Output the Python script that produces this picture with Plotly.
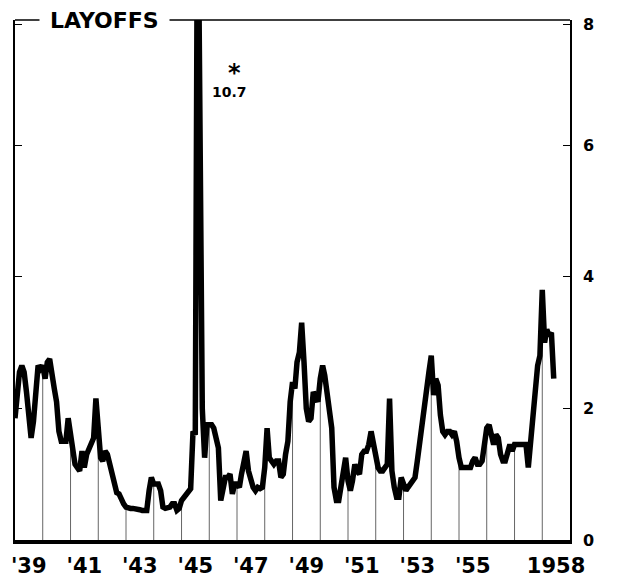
import plotly.graph_objects as go
import pandas as pd

# monthly layoff rates, one list per year
y1939 = [1.85, 2.35, 2.55, 2.65, 2.55, 2.25, 1.85, 1.55, 1.8, 2.2, 2.65, 2.6]
y1940 = [2.65, 2.45, 2.7, 2.75, 2.45, 2.3, 2.1, 1.65, 1.5, 1.5, 1.5, 1.85]
y1941 = [1.55, 1.35, 1.15, 1.1, 1.05, 1.35, 1.1, 1.3, 1.4, 1.45, 1.55, 2.15]
y1942 = [1.6, 1.25, 1.2, 1.35, 1.3, 1.15, 1.0, 0.8, 0.72, 0.7, 0.6, 0.55]
y1943 = [0.5, 0.48, 0.48, 0.48, 0.48, 0.47, 0.46, 0.45, 0.45, 0.45, 0.75, 0.95]
y1944 = [0.85, 0.85, 0.85, 0.75, 0.5, 0.48, 0.48, 0.5, 0.55, 0.55, 0.45, 0.48]
y1945 = [0.6, 0.65, 0.7, 0.72, 0.78, 1.65, 1.6, 10.7, 6.5, 2.0, 1.25, 1.75]
y1946 = [1.75, 1.75, 1.7, 1.5, 1.4, 0.6, 0.75, 0.95, 0.95, 1.0, 0.7, 0.85]
y1947 = [0.85, 0.8, 1.0, 1.15, 1.35, 1.05, 0.9, 0.8, 0.75, 0.8, 0.78, 0.8]
y1948 = [1.1, 1.7, 1.25, 1.2, 1.15, 1.2, 1.2, 0.95, 1.0, 1.3, 1.5, 2.1]
y1949 = [2.4, 2.3, 2.7, 2.85, 3.3, 2.7, 2.0, 1.8, 1.85, 2.25, 2.15, 2.1]
y1950 = [2.45, 2.65, 2.5, 2.2, 1.9, 1.7, 0.8, 0.6, 0.6, 0.85, 1.1, 1.25]
y1951 = [0.9, 0.75, 0.9, 1.15, 1.05, 1.0, 1.3, 1.35, 1.35, 1.45, 1.65, 1.45]
y1952 = [1.25, 1.1, 1.05, 1.05, 1.1, 1.15, 2.15, 1.05, 0.8, 0.65, 0.65, 0.95]
y1953 = [0.85, 0.75, 0.8, 0.85, 0.9, 0.95, 1.2, 1.5, 1.75, 2.0, 2.3, 2.55]
y1954 = [2.8, 2.2, 2.45, 2.35, 1.9, 1.65, 1.6, 1.65, 1.65, 1.6, 1.65, 1.5]
y1955 = [1.25, 1.1, 1.1, 1.1, 1.1, 1.1, 1.2, 1.25, 1.15, 1.15, 1.2, 1.4]
y1956 = [1.7, 1.75, 1.6, 1.45, 1.6, 1.55, 1.3, 1.2, 1.2, 1.3, 1.45, 1.35]
y1957 = [1.45, 1.45, 1.45, 1.45, 1.45, 1.45, 1.1, 1.5, 1.85, 2.3, 2.65, 2.8]
y1958 = [3.8, 3.0, 3.2, 3.1, 3.15, 2.45]

year_labels = ["'39", "'41", "'43", "'45", "'47", "'49", "'51", "'53", "'55", "1958"]
label_years = [1939, 1941, 1943, 1945, 1947, 1949, 1951, 1953, 1955, 1958]

values = (y1939 + y1940 + y1941 + y1942 + y1943 + y1944 + y1945 + y1946 + y1947 + y1948
          + y1949 + y1950 + y1951 + y1952 + y1953 + y1954 + y1955 + y1956 + y1957 + y1958)
months = pd.date_range('1939-01-01', periods=len(values), freq='MS')

# thin drop lines at each January, from zero up to the curve
drop_x, drop_y = [], []
for i in range(12, len(values), 12):
    drop_x += [months[i], months[i], None]
    drop_y += [0, values[i], None]

fig = go.Figure()
fig.add_trace(go.Scatter(x=drop_x, y=drop_y, mode='lines',
                         line=dict(color='#666666', width=1), hoverinfo='skip'))
fig.add_trace(go.Scatter(x=months, y=values, mode='lines',
                         line=dict(color='black', width=5.5)))

tick_font = dict(family='DejaVu Sans', size=21, color='black', weight='bold')
# the page body adds an 8px margin, so the figure is sized/offset to compensate
fig.update_layout(
    width=610, height=571,
    margin=dict(l=7, r=48, t=12, b=39),
    paper_bgcolor='white', plot_bgcolor='white',
    showlegend=False,
    xaxis=dict(
        range=['1939-01-01', '1959-01-01'],
        tickvals=[f'{y}-07-01' for y in label_years],
        ticktext=year_labels,
        tickfont=tick_font,
        ticks='', showgrid=False, zeroline=False,
        showline=True, linewidth=4, linecolor='black',
        ticklabelstandoff=4, automargin=False,
    ),
    yaxis=dict(
        range=[0, 7.9], side='right',
        tickvals=[0, 2, 4, 6, 7.83], ticktext=['0', '2', '4', '6', '8'],
        tickfont=dict(family='DejaVu Sans', size=16, color='black', weight='bold'),
        ticks='inside', ticklen=7, tickcolor='black', tickwidth=1,
        showgrid=False, zeroline=False,
        showline=True, mirror='ticks', linewidth=1.5, linecolor='black',
        ticklabelstandoff=8, automargin=False,
    ),
)

# top border line; the title box sits on it
fig.add_shape(type='line', xref='paper', yref='paper', x0=0, x1=1, y0=1, y1=1,
              line=dict(color='black', width=1.5))

fig.add_annotation(x=0.161, y=1.0, xref='paper', yref='paper', text='LAYOFFS',
                   xanchor='center', yanchor='middle',
                   showarrow=False, bgcolor='white', borderpad=10,
                   font=dict(family='DejaVu Sans', size=22, color='black', weight='bold'))
fig.add_annotation(x=0.396, y=0.899, xref='paper', yref='paper', text='*',
                   xanchor='center', yanchor='middle', showarrow=False,
                   font=dict(family='DejaVu Sans', size=24, color='black', weight='bold'))
fig.add_annotation(x=0.386, y=0.861, xref='paper', yref='paper', text='10.7',
                   xanchor='center', yanchor='middle', showarrow=False,
                   font=dict(family='DejaVu Sans', size=14, color='black', weight='bold'))

fig.write_html("out.html")
